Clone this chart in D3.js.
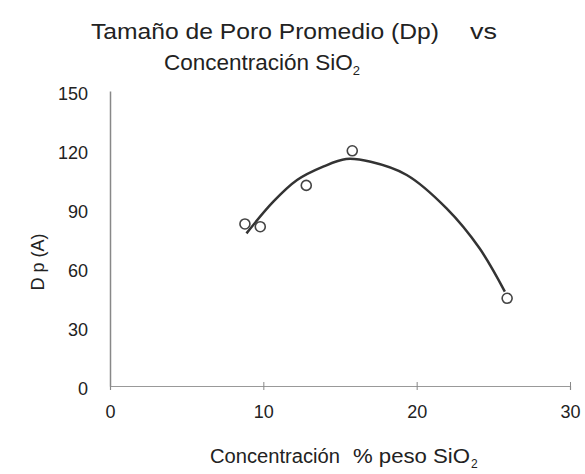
<!DOCTYPE html>
<html>
<head>
<meta charset="utf-8">
<script src="https://cdn.jsdelivr.net/npm/d3@7"></script>
<style>
  body { margin: 0; background: #fff; }
  text { font-family: "Liberation Sans", Arial, sans-serif; fill: #222; white-space: pre; }
</style>
</head>
<body>
<div id="chart"></div>
<script>
// measured points (concentration % SiO2, Dp in A)
var concentration = [8.8, 9.8, 12.8, 15.8, 25.9];
var poreSize = [82.4, 81, 102, 119.6, 44.6];

// trend curve
var trendX = [8.9, 10.65, 12.2, 13.9, 15.4, 17.0, 19.35, 21.95, 24.1, 25.75];
var trendY = [77.6, 93.7, 104.7, 111.5, 115.4, 114, 107.3, 90.3, 70, 48];

var xTicks = [0, 10, 20, 30];
var yTicks = [0, 30, 60, 90, 120, 150];

function main() {
    var W = 585, H = 474;
    var svg = d3.select("#chart").append("svg")
        .attr("width", W).attr("height", H);

    var x = d3.scaleLinear().domain([0, 30]).range([110, 570]);
    var y = d3.scaleLinear().domain([0, 150]).range([386, 91]);

    // title, first line stretched a bit like the scanned original
    svg.append("text")
        .attr("x", 91).attr("y", 39)
        .attr("font-size", "22px")
        .attr("textLength", 348)
        .attr("lengthAdjust", "spacingAndGlyphs")
        .text("Tamaño de Poro Promedio (Dp)");
    svg.append("text")
        .attr("x", 470).attr("y", 39)
        .attr("font-size", "22px")
        .attr("textLength", 27)
        .attr("lengthAdjust", "spacingAndGlyphs")
        .text("vs");
    var t2 = svg.append("text")
        .attr("x", 164).attr("y", 70)
        .attr("font-size", "22.5px");
    t2.append("tspan").text("Concentración SiO");
    t2.append("tspan").attr("font-size", "13px").attr("dy", 5).text("2");

    // y axis
    var yAxis = svg.append("g")
        .attr("transform", "translate(" + x(0) + ",0)")
        .call(d3.axisLeft(y).tickValues(yTicks).tickSize(0).tickPadding(22));
    yAxis.select(".domain").attr("stroke", "#888").attr("stroke-width", 1.5);
    yAxis.selectAll("text")
        .attr("font-size", "18px")
        .attr("font-family", "Liberation Sans, Arial, sans-serif")
        .attr("fill", "#222")
        .attr("dy", "0.45em");

    // x axis
    var xAxis = svg.append("g")
        .attr("transform", "translate(0," + y(0) + ")")
        .call(d3.axisBottom(x).tickValues(xTicks).tickSizeOuter(0).tickSize(4).tickPadding(15));
    xAxis.select(".domain").attr("stroke", "#999").attr("stroke-width", 1.2);
    xAxis.selectAll(".tick line").attr("stroke", "#888").attr("y1", -4);
    xAxis.selectAll("text")
        .attr("font-size", "18px")
        .attr("font-family", "Liberation Sans, Arial, sans-serif")
        .attr("fill", "#555");

    // axis labels
    svg.append("text")
        .attr("x", 210).attr("y", 463)
        .attr("font-size", "19.5px")
        .attr("textLength", 130)
        .attr("lengthAdjust", "spacingAndGlyphs")
        .text("Concentración");
    svg.append("text")
        .attr("x", 353).attr("y", 463)
        .attr("font-size", "19.5px")
        .attr("textLength", 117)
        .attr("lengthAdjust", "spacingAndGlyphs")
        .text("% peso SiO");
    svg.append("text")
        .attr("x", 471).attr("y", 468)
        .attr("font-size", "12px")
        .text("2");

    svg.append("text")
        .attr("transform", "translate(44,262) rotate(-90)")
        .attr("text-anchor", "middle")
        .attr("font-size", "18px")
        .text("D p (A)");

    // trend curve
    var trend = trendX.map(function (d, i) { return [d, trendY[i]]; });
    var line = d3.line()
        .x(function (d) { return x(d[0]); })
        .y(function (d) { return y(d[1]); })
        .curve(d3.curveCatmullRom);
    svg.append("path")
        .attr("d", line(trend))
        .attr("fill", "none")
        .attr("stroke", "#333")
        .attr("stroke-width", 2.5);

    // points
    svg.append("g").selectAll("circle")
        .data(concentration)
        .join("circle")
        .attr("cx", function (d) { return x(d); })
        .attr("cy", function (d, i) { return y(poreSize[i]); })
        .attr("r", 5)
        .attr("fill", "none")
        .attr("stroke", "#444")
        .attr("stroke-width", 1.6);
}

main();
</script>
</body>
</html>
